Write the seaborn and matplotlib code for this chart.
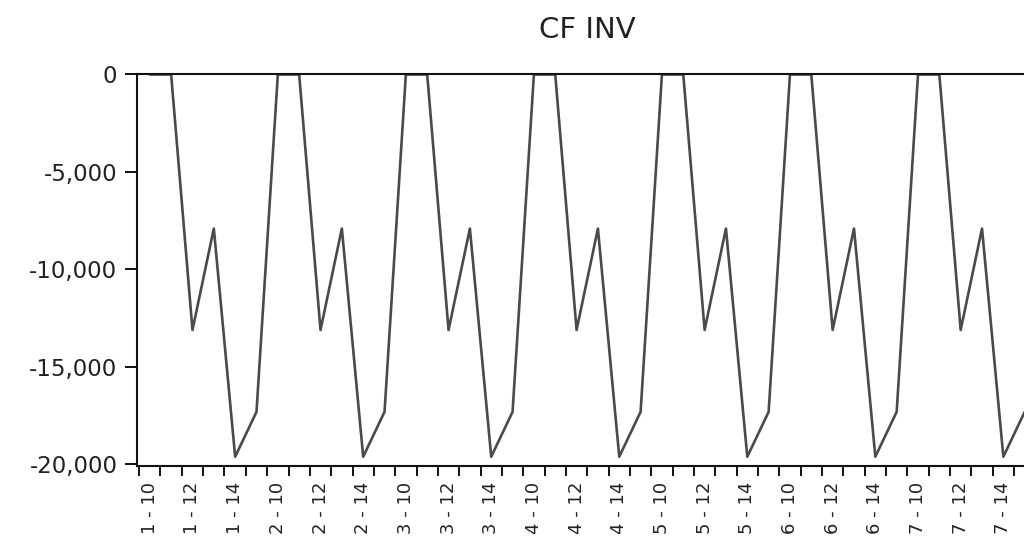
import matplotlib
matplotlib.use("Agg")
import matplotlib.pyplot as plt
import matplotlib.ticker as mticker
import seaborn as sns
import pandas as pd

# ---- data ----
periods = ["1", "2", "3", "4", "5", "6", "7"]
sub_periods = ["10", "11", "12", "13", "14", "15"]
cf_inv = [
    0, 0, -13100, -7900, -19600, -17300,
    0, 0, -13100, -7900, -19600, -17300,
    0, 0, -13100, -7900, -19600, -17300,
    0, 0, -13100, -7900, -19600, -17300,
    0, 0, -13100, -7900, -19600, -17300,
    0, 0, -13100, -7900, -19600, -17300,
    0, 0, -13100, -7900, -19600, -17300,
]
y_ticks = [0, -5000, -10000, -15000, -20000]
title = "CF INV"

obs_labels = [f"{p} - {s}" for p in periods for s in sub_periods]
df = pd.DataFrame({"obs": range(len(cf_inv)), "value": cf_inv})

sns.set_style("white")
plt.rcParams["font.family"] = ["DejaVu Sans"]
plt.rcParams["axes.unicode_minus"] = False

fig = plt.figure(figsize=(10.24, 5.38), dpi=100)
W, H = 1024, 538
ax = fig.add_axes([137 / W, (H - 466) / H, (1037.5 - 137) / W, (466 - 73.5) / H])

sns.lineplot(data=df, x="obs", y="value", ax=ax, color="#4a4a4a", linewidth=1.9)

ax.set_xlim(-0.6, 41.6)
ax.set_ylim(-20077, 51)

# y axis
ax.set_yticks(y_ticks)
ax.yaxis.set_major_formatter(mticker.FuncFormatter(lambda v, p: f"{v:,.0f}"))
ax.tick_params(axis="y", which="major", left=True, right=False, length=8.6, width=1.4,
               pad=5.5, labelsize=16.5, labelcolor="#222222", color="#111111")

# x axis: labels on every other observation, tick marks between observations
lab_pos = [i for i in range(len(cf_inv)) if i % 2 == 0]
ax.set_xticks(lab_pos)
ax.set_xticklabels([obs_labels[i] for i in lab_pos], rotation=90)
ax.set_xticks([i - 0.5 for i in range(len(cf_inv) + 1)], minor=True)
ax.tick_params(axis="x", which="major", bottom=True, top=False, length=0, pad=11.3,
               labelsize=13, labelcolor="#222222")
ax.tick_params(axis="x", which="minor", bottom=True, top=False, length=7, width=1.4,
               color="#111111")

ax.set_xlabel("")
ax.set_ylabel("")

for side in ["left", "bottom", "top", "right"]:
    ax.spines[side].set_visible(True)
    ax.spines[side].set_color("#111111")
    ax.spines[side].set_linewidth(1.5)

fig.text(587 / W, 1 - 38 / H, title, ha="center", va="baseline", fontsize=21, color="#222222")

fig.savefig("out.png", dpi=100)
